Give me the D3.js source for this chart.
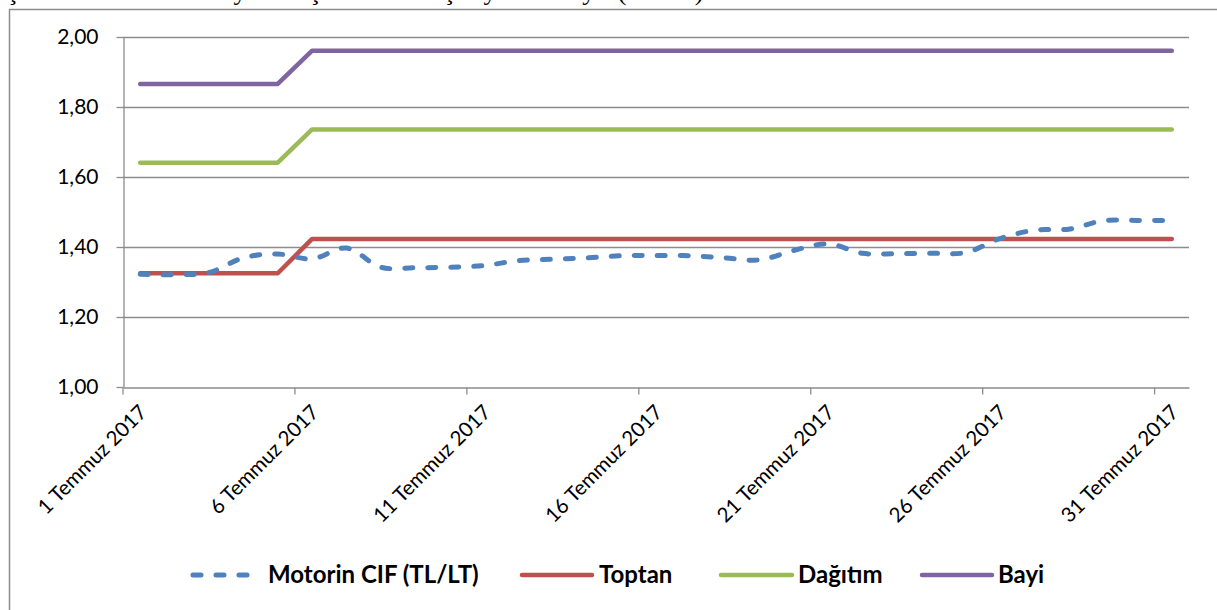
<!DOCTYPE html>
<html>
<head>
<meta charset="utf-8">
<script src="https://cdn.jsdelivr.net/npm/d3@7/dist/d3.min.js"></script>
<style>
  body { margin: 0; background: #fff; }
  svg { display: block; }
</style>
</head>
<body>
<script>
/* Motorin fiyat seyri - Temmuz 2017 */
var days = d3.range(1, 32);
var dayLabels = days.map(function(d){ return d + " Temmuz 2017"; });
var labeledDays = [1, 6, 11, 16, 21, 26, 31];

var cif = [1.322, 1.321, 1.327, 1.369, 1.380, 1.366, 1.397, 1.342, 1.341, 1.342,
           1.347, 1.361, 1.365, 1.369, 1.375, 1.376, 1.375, 1.369, 1.363, 1.390,
           1.409, 1.382, 1.381, 1.382, 1.384, 1.424, 1.448, 1.451, 1.475, 1.476, 1.476];
var toptan = [1.325, 1.325, 1.325, 1.325, 1.325,
              1.423, 1.423, 1.423, 1.423, 1.423, 1.423, 1.423, 1.423, 1.423, 1.423, 1.423,
              1.423, 1.423, 1.423, 1.423, 1.423, 1.423, 1.423, 1.423, 1.423, 1.423,
              1.423, 1.423, 1.423, 1.423, 1.423];
var dagitim = [1.641, 1.641, 1.641, 1.641, 1.641,
               1.736, 1.736, 1.736, 1.736, 1.736, 1.736, 1.736, 1.736, 1.736, 1.736, 1.736,
               1.736, 1.736, 1.736, 1.736, 1.736, 1.736, 1.736, 1.736, 1.736, 1.736,
               1.736, 1.736, 1.736, 1.736, 1.736];
var bayi = [1.866, 1.866, 1.866, 1.866, 1.866,
            1.961, 1.961, 1.961, 1.961, 1.961, 1.961, 1.961, 1.961, 1.961, 1.961, 1.961,
            1.961, 1.961, 1.961, 1.961, 1.961, 1.961, 1.961, 1.961, 1.961, 1.961,
            1.961, 1.961, 1.961, 1.961, 1.961];

var yTicks = [1.0, 1.2, 1.4, 1.6, 1.8, 2.0];

var seriesNames = ["Motorin CIF (TL/LT)", "Toptan", "Dağıtım", "Bayi"];
var seriesColors = ["#4F81BD", "#C0504D", "#9BBB59", "#8064A2"];

var W = 1217, H = 610;
var svg = d3.select("body").append("svg")
    .attr("width", W)
    .attr("height", H);

// cropped caption above the chart (only the descenders show)
svg.append("text")
    .attr("x", 6)
    .attr("y", 0)
    .style("font-family", "'Liberation Serif', 'Times New Roman', serif")
    .style("font-size", "26px")
    .text("Şekil 3: Motorin Maliyet Oluşumu ve Satış Fiyatları Seyri (TL/LT)");

// chart frame
svg.append("rect")
    .attr("x", 9.5).attr("y", 9.5)
    .attr("width", 1230).attr("height", 620)
    .attr("fill", "none")
    .attr("stroke", "#8c8c8c")
    .attr("stroke-width", 1.5);

var plotLeft = 123, plotRight = 1189, plotTop = 37, plotBottom = 387;

var x = d3.scaleBand().domain(days).range([plotLeft, plotRight]).paddingInner(0).paddingOuter(0);
var bw = x.bandwidth();
var cx = function(d){ return x(d) + bw / 2; };

var y = d3.scaleLinear().domain([1, 2]).range([plotBottom, plotTop]);

// grid
svg.append("g")
    .selectAll("line")
    .data(yTicks.slice(1))
    .enter()
    .append("line")
    .attr("x1", plotLeft).attr("x2", plotRight)
    .attr("y1", function(d){ return Math.round(y(d)) + 0.5; })
    .attr("y2", function(d){ return Math.round(y(d)) + 0.5; })
    .attr("stroke", "#8c8c8c")
    .attr("stroke-width", 1.3);

// y axis
var yAxis = svg.append("g")
    .attr("transform", "translate(" + (plotLeft + 0.5) + ",0)")
    .call(d3.axisLeft(y).tickValues(yTicks).tickSize(7).tickSizeOuter(0).tickPadding(18)
        .tickFormat(function(d){ return d3.format(".2f")(d).replace(".", ","); }));
yAxis.select(".domain").attr("stroke", "#8c8c8c").attr("stroke-width", 1.3);
yAxis.selectAll(".tick line").attr("stroke", "#8c8c8c").attr("stroke-width", 1.3);
yAxis.selectAll(".tick text")
    .style("font-family", "Lato, 'Open Sans', sans-serif")
    .style("font-size", "21px")
    .attr("fill", "#000");

// x axis
var xAxis = svg.append("g")
    .attr("transform", "translate(0," + (plotBottom + 0.5) + ")")
    .call(d3.axisBottom(x).tickValues(labeledDays).tickSize(7).tickSizeOuter(0)
        .tickFormat(function(d){ return dayLabels[d - 1]; }));
xAxis.select(".domain").attr("stroke", "#8c8c8c").attr("stroke-width", 1.3);
xAxis.selectAll(".tick line")
    .attr("x1", -bw / 2).attr("x2", -bw / 2)
    .attr("stroke", "#8c8c8c").attr("stroke-width", 1.3);
xAxis.selectAll(".tick text")
    .attr("y", 0).attr("dy", 0)
    .attr("text-anchor", "end")
    .attr("transform", "translate(8,26) rotate(-45)")
    .style("font-family", "Lato, 'Open Sans', sans-serif")
    .style("font-size", "20.5px")
    .attr("fill", "#000");

// lines
var allSeries = [cif, toptan, dagitim, bayi];
var straight = d3.line()
    .x(function(d, i){ return cx(days[i]); })
    .y(function(d){ return y(d); });
var smooth = d3.line()
    .x(function(d, i){ return cx(days[i]); })
    .y(function(d){ return y(d); })
    .curve(d3.curveCatmullRom.alpha(0.5));

[3, 2, 1, 0].forEach(function(k){
    var p = svg.append("path")
        .datum(allSeries[k])
        .attr("fill", "none")
        .attr("stroke", seriesColors[k])
        .attr("stroke-width", k === 0 ? 5 : 4.5)
        .attr("stroke-linecap", "round")
        .attr("stroke-linejoin", "round")
        .attr("d", k === 0 ? smooth : straight);
    if (k === 0) p.attr("stroke-dasharray", "8,15");
});

// legend
var legendItems = [
    { x: 193, w: 62, tx: 268 },
    { x: 522, w: 70, tx: 599 },
    { x: 721, w: 71, tx: 798 },
    { x: 922, w: 70, tx: 998 }
];
var ly = 575;
var lg = svg.append("g");
legendItems.forEach(function(it, i){
    var l = lg.append("line")
        .attr("x1", it.x).attr("x2", it.x + it.w)
        .attr("y1", ly).attr("y2", ly)
        .attr("stroke", seriesColors[i])
        .attr("stroke-width", i === 0 ? 5 : 4.5)
        .attr("stroke-linecap", "round");
    if (i === 0) l.attr("stroke-dasharray", "8,15");
    lg.append("text")
        .attr("x", it.tx).attr("y", ly + 8)
        .style("font-family", "Lato, 'Open Sans', sans-serif")
        .style("font-weight", "bold")
        .style("font-size", "24px")
        .text(seriesNames[i]);
});
</script>
</body>
</html>
